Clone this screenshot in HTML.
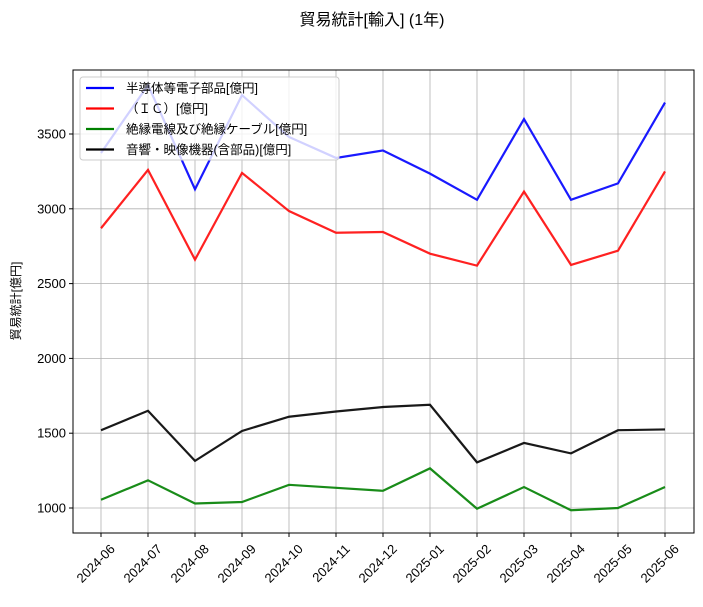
<!DOCTYPE html>
<html><head><meta charset="utf-8"><style>
body{margin:0;background:#fff;}
svg text{font-family:"Liberation Sans","Noto Sans CJK JP",sans-serif;}
</style></head><body>
<svg id="chart" width="703" height="602" xmlns="http://www.w3.org/2000/svg">
<text x="372" y="25" text-anchor="middle" font-size="16">貿易統計[輸入] (1年)</text>
<text transform="translate(20,301) rotate(-90)" text-anchor="middle" font-size="12">貿易統計[億円]</text>
<g id="grid"></g><g id="series"></g><g id="axes"></g>
<rect x="73" y="70" width="621" height="463" fill="none" stroke="#000" stroke-width="1"/>
<g>
<rect x="80" y="77" width="259" height="83" fill="#fff" fill-opacity="0.8" stroke="#ccc" rx="3"/>
<g id="legend-entries"></g>
</g>
</svg>
<script>
const categories=["2024-06","2024-07","2024-08","2024-09","2024-10","2024-11","2024-12","2025-01","2025-02","2025-03","2025-04","2025-05","2025-06"];
const semiconductors=[3373,3827,3130,3760,3480,3340,3390,3235,3060,3600,3060,3170,3710];
const ic=[2870,3260,2660,3240,2985,2840,2845,2700,2620,3115,2625,2720,3250];
const cables=[1055,1185,1030,1040,1155,1135,1115,1265,995,1140,985,1000,1140];
const audio=[1520,1650,1315,1515,1610,1645,1675,1690,1305,1435,1365,1520,1525];
const yTicks=[1000,1500,2000,2500,3000,3500];
const seriesNames=["半導体等電子部品[億円]","（ＩＣ）[億円]","絶縁電線及び絶縁ケーブル[億円]","音響・映像機器(含部品)[億円]"];
const NS="http://www.w3.org/2000/svg";
const x=i=>101+i*47;
const y=v=>508-(v-1000)*0.1496;
function mk(tag,attrs,parent){const e=document.createElementNS(NS,tag);for(const k in attrs)e.setAttribute(k,attrs[k]);parent.appendChild(e);return e;}
const grid=document.getElementById('grid'),axes=document.getElementById('axes'),ser=document.getElementById('series'),leg=document.getElementById('legend-entries');
categories.forEach((c,i)=>{
  const g=mk('line',{x1:x(i),x2:x(i),y1:70,y2:533,stroke:'#b0b0b0','stroke-width':0.8},grid);
  
  
  const t=mk('line',{x1:x(i),x2:x(i),y1:533,y2:537,stroke:'#000'},axes);
  
  
  const l=mk('text',{transform:`translate(${x(i)+8},${543}) rotate(-45)`,'text-anchor':'end','font-size':13,'dominant-baseline':'hanging'},axes);
  l.textContent=c;
  
  
});
yTicks.forEach(v=>{
  const g=mk('line',{x1:73,x2:694,y1:y(v),y2:y(v),stroke:'#b0b0b0','stroke-width':0.8},grid);
  
  
  const t=mk('line',{x1:69,x2:73,y1:y(v),y2:y(v),stroke:'#000'},axes);
  
  
  const l=mk('text',{x:66,y:y(v)+4.5,'text-anchor':'end','font-size':13},axes);
  l.textContent=v;
  
  
});
const all=[semiconductors,ic,cables,audio],colors=['#0000ff','#ff0000','#008000','#000000'],names=['line-semiconductors','line-ic','line-cables','line-audio-video'];
all.forEach((d,k)=>{
  const p=mk('polyline',{points:d.map((v,i)=>x(i)+','+y(v)).join(' '),fill:'none',stroke:colors[k],'stroke-width':2.2,'stroke-opacity':k==1?0.87:0.9},ser);
  
  
  const ly=88+k*20.5;
  const ll=mk('line',{x1:86,x2:114,y1:ly,y2:ly,stroke:colors[k],'stroke-width':2.2},leg);
  
  
  const lt=mk('text',{x:126,y:ly+4.5,'font-size':12.5},leg);
  lt.textContent=seriesNames[k];
  
  
});
</script>
</body></html>
